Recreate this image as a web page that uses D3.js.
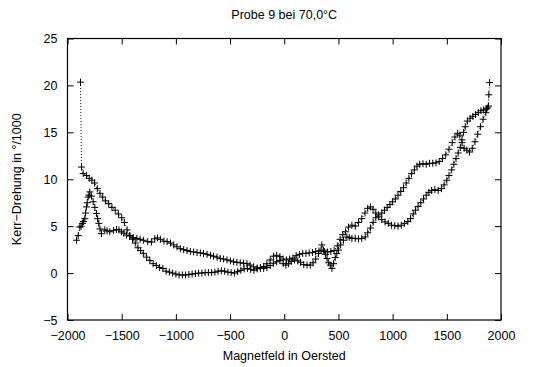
<!DOCTYPE html>
<html>
<head>
<meta charset="utf-8">
<script src="https://cdn.jsdelivr.net/npm/d3@7"></script>
<style>
	body { margin: 0; background: #fff; }
	svg { display: block; font-family: 'Liberation Sans', Arial, sans-serif; }
</style>
</head>
<body>
<svg id="chart"></svg>
<script>
const title = 'Probe 9 bei 70,0°C'
const xLabel = 'Magnetfeld in Oersted'
const yLabel = 'Kerr\u2212Drehung in °/1000'

const xTicks = [-2000, -1500, -1000, -500, 0, 500, 1000, 1500, 2000]
const yTicks = [-5, 0, 5, 10, 15, 20, 25]

// hinweg: feld steigt
const upField = [-1880, -1871, -1855, -1825, -1800, -1775, -1750, -1725, -1700, -1675, -1650, -1620, -1590, -1560, -1530, -1500, -1475, -1450, -1425, -1400, -1375, -1350, -1325, -1300, -1270, -1240, -1210, -1180, -1150, -1120, -1090, -1060, -1030, -1000, -970, -940, -910, -880, -850, -820, -790, -760, -730, -700, -670, -640, -610, -580, -550, -520, -490, -460, -430, -400, -370, -340, -310, -280, -250, -220, -190, -160, -130, -100, -70, -40, -10, 15, 40, 65, 95, 125, 150, 180, 210, 240, 265, 290, 316, 340, 362, 380, 395, 410, 425, 440, 455, 470, 485, 500, 520, 547, 578, 600, 624, 655, 685, 715, 747, 770, 795, 820, 845, 870, 900, 925, 950, 975, 1000, 1025, 1050, 1075, 1100, 1125, 1150, 1175, 1200, 1225, 1250, 1280, 1310, 1340, 1370, 1400, 1430, 1460, 1490, 1520, 1550, 1575, 1600, 1620, 1640, 1660, 1685, 1710, 1735, 1760, 1785, 1810, 1835, 1860, 1878, 1888, 1895]
const upKerr = [20.35, 11.3, 10.6, 10.4, 10.1, 9.9, 9.6, 9.0, 8.5, 8.1, 7.7, 7.4, 7.0, 6.7, 6.3, 5.9, 5.4, 4.6, 4.0, 3.6, 3.2, 2.7, 2.4, 2.1, 1.7, 1.35, 1.0, 0.8, 0.6, 0.5, 0.2, 0.1, 0.0, -0.1, -0.2, -0.2, -0.2, -0.15, -0.1, -0.05, 0.0, 0.0, 0.05, 0.05, 0.05, 0.1, 0.2, 0.25, 0.2, 0.1, 0.05, 0.0, 0.15, 0.3, 0.45, 0.5, 0.4, 0.3, 0.45, 0.6, 0.5, 0.6, 0.8, 1.05, 1.2, 1.35, 1.0, 0.85, 1.0, 1.25, 1.4, 1.3, 1.15, 0.9, 0.85, 0.85, 1.1, 1.5, 2.1, 2.4, 2.45, 2.0, 1.55, 1.1, 0.85, 0.5, 1.0, 1.65, 2.1, 2.45, 3.0, 3.5, 3.85, 3.8, 3.7, 3.7, 3.65, 3.7, 3.85, 4.3, 4.8, 5.4, 5.9, 6.2, 6.4, 6.7, 7.0, 7.3, 7.6, 7.9, 8.3, 8.7, 9.1, 9.6, 10.1, 10.6, 11.0, 11.4, 11.6, 11.65, 11.6, 11.7, 11.7, 11.75, 11.9, 12.2, 12.6, 13.2, 13.9, 14.5, 14.9, 14.7, 13.9, 13.3, 13.1, 12.9, 13.3, 14.0, 14.8, 15.6, 16.4, 17.1, 17.6, 19.0, 20.3]

// rueckweg: feld faellt
const downField = [1885, 1865, 1840, 1815, 1790, 1765, 1740, 1715, 1690, 1670, 1655, 1640, 1625, 1605, 1585, 1565, 1545, 1520, 1500, 1475, 1450, 1420, 1390, 1360, 1335, 1310, 1285, 1260, 1235, 1210, 1190, 1165, 1140, 1110, 1080, 1050, 1020, 990, 960, 930, 900, 870, 845, 820, 795, 770, 745, 715, 685, 655, 624, 593, 565, 540, 515, 490, 460, 430, 400, 370, 347, 320, 290, 260, 230, 200, 170, 140, 110, 80, 50, 20, -10, -40, -70, -100, -130, -160, -190, -220, -250, -283, -315, -344, -375, -406, -437, -467, -497, -528, -560, -590, -620, -652, -680, -712, -745, -774, -805, -836, -866, -897, -928, -959, -990, -1020, -1050, -1081, -1110, -1143, -1170, -1195, -1226, -1260, -1300, -1330, -1360, -1394, -1425, -1456, -1480, -1502, -1525, -1548, -1575, -1610, -1635, -1656, -1687, -1700, -1711, -1722, -1733, -1748, -1763, -1779, -1794, -1802, -1810, -1818, -1825, -1833, -1840, -1852, -1862, -1874, -1886, -1901, -1917]
const downKerr = [17.8, 17.5, 17.4, 17.3, 17.1, 16.9, 16.7, 16.5, 16.2, 15.6, 15.0, 14.2, 13.4, 12.8, 12.2, 11.6, 11.0, 10.4, 9.9, 9.4, 9.0, 8.8, 8.9, 8.8, 8.6, 8.3, 7.9, 7.5, 7.1, 6.7, 6.3, 5.8, 5.5, 5.3, 5.1, 5.0, 5.05, 5.1, 5.3, 5.45, 5.7, 6.0, 6.4, 6.8, 7.05, 6.9, 6.4, 5.8, 5.4, 5.0, 5.1, 4.9, 4.4, 4.1, 3.6, 2.9, 2.4, 2.3, 2.25, 2.3, 3.0, 2.35, 2.3, 2.2, 2.15, 2.1, 2.1, 2.0, 1.85, 1.6, 1.5, 1.4, 1.5, 1.75, 1.9, 1.8, 1.4, 1.0, 0.7, 0.5, 0.55, 0.67, 0.85, 1.0, 1.05, 1.1, 1.15, 1.2, 1.3, 1.4, 1.5, 1.55, 1.7, 1.8, 1.9, 2.0, 2.1, 2.15, 2.2, 2.25, 2.3, 2.4, 2.5, 2.6, 2.8, 3.0, 3.2, 3.35, 3.4, 3.6, 3.75, 3.65, 3.3, 3.35, 3.5, 3.6, 3.7, 3.8, 3.95, 4.05, 4.25, 4.4, 4.6, 4.65, 4.55, 4.4, 4.5, 4.6, 4.2, 4.7, 5.3, 5.8, 6.35, 7.0, 7.6, 8.2, 8.65, 8.3, 8.1, 7.5, 7.05, 6.4, 5.8, 5.5, 5.3, 5.0, 4.9, 4.0, 3.5]

const W = 541
const H = 367
const margin = { left: 67.5, right: 40, top: 38.5, bottom: 47 }

const svg = d3.select('#chart')
	.attr('width', W)
	.attr('height', H)

const xScale = d3.scaleLinear()
	.domain([-2000, 2000])
	.range([margin.left, W - margin.right])
const yScale = d3.scaleLinear()
	.domain([-5, 25])
	.range([H - margin.bottom, margin.top])

const fmt = d => (d < 0 ? '\u2212' + Math.abs(d) : String(d))

// achsen, ticks nach innen auf allen seiten
const x0 = xScale.range()[0], x1 = xScale.range()[1]
const y0 = yScale.range()[0], y1 = yScale.range()[1]

svg.append('g')
	.attr('transform', `translate(0,${y0})`)
	.call(d3.axisBottom(xScale).tickValues(xTicks).tickFormat(fmt).tickSizeInner(-6).tickSizeOuter(0).tickPadding(11))
svg.append('g')
	.attr('transform', `translate(0,${y1})`)
	.call(d3.axisTop(xScale).tickValues(xTicks).tickFormat('').tickSizeInner(-6).tickSizeOuter(0))
svg.append('g')
	.attr('transform', `translate(${x0},0)`)
	.call(d3.axisLeft(yScale).tickValues(yTicks).tickFormat(fmt).tickSizeInner(-6).tickSizeOuter(0).tickPadding(10))
svg.append('g')
	.attr('transform', `translate(${x1},0)`)
	.call(d3.axisRight(yScale).tickValues(yTicks).tickFormat('').tickSizeInner(-6).tickSizeOuter(0))

svg.selectAll('.domain').remove()
svg.selectAll('.tick line').attr('stroke', '#000').attr('stroke-width', 1)
svg.selectAll('.tick text')
	.attr('font-size', 12.5)
	.attr('fill', '#000')
	.attr('font-family', "'Liberation Sans', Arial, sans-serif")

svg.append('rect')
	.attr('x', x0)
	.attr('y', y1)
	.attr('width', x1 - x0)
	.attr('height', y0 - y1)
	.attr('fill', 'none')
	.attr('stroke', '#000')
	.attr('stroke-width', 1.2)

// messkurven
const branches = [
	upField.map((f, i) => [f, upKerr[i]]),
	downField.map((f, i) => [f, downKerr[i]])
]

const lineGen = d3.line()
	.x(d => xScale(d[0]))
	.y(d => yScale(d[1]))

const plot = svg.append('g')

branches.forEach(pts => {
	plot.append('path')
		.attr('d', lineGen(pts))
		.attr('fill', 'none')
		.attr('stroke', '#000')
		.attr('stroke-width', 1)
		.attr('stroke-dasharray', '1,2')

	plot.selectAll(null)
		.data(pts)
		.enter()
		.append('path')
		.attr('transform', d => `translate(${xScale(d[0])},${yScale(d[1])})`)
		.attr('d', 'M-3.5,0H3.5M0,-3.5V3.5')
		.attr('stroke', '#000')
		.attr('stroke-width', 1)
})

// beschriftung
svg.append('text')
	.attr('x', (x0 + x1) / 2)
	.attr('y', 19)
	.attr('text-anchor', 'middle')
	.attr('font-size', 12.5)
	.text(title)

svg.append('text')
	.attr('x', (x0 + x1) / 2)
	.attr('y', 360)
	.attr('text-anchor', 'middle')
	.attr('font-size', 12.5)
	.text(xLabel)

svg.append('text')
	.attr('transform', `translate(21,${(y0 + y1) / 2}) rotate(-90)`)
	.attr('text-anchor', 'middle')
	.attr('font-size', 12.5)
	.text(yLabel)
</script>
</body>
</html>
